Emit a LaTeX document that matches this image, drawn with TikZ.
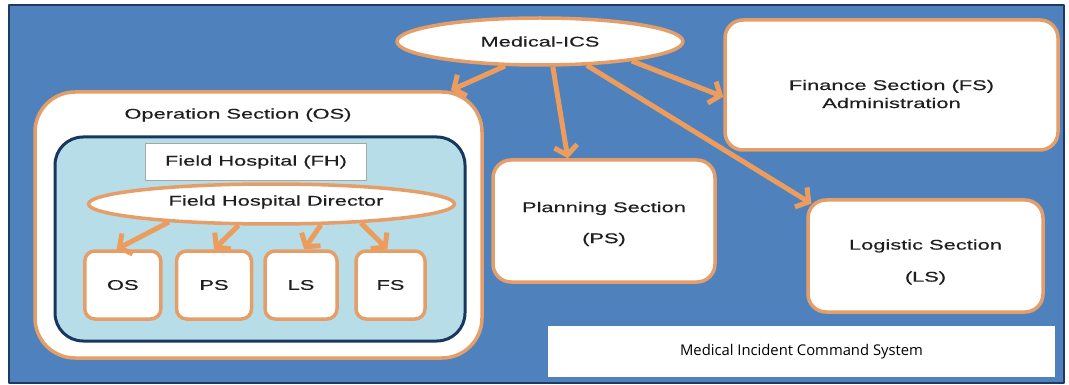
\documentclass[tikz,border=0pt]{standalone}
\usepackage{fontspec}
\usetikzlibrary{shapes.geometric,arrows.meta}
\newfontfamily\chu[FakeStretch=1.56,FakeBold=0.4]{Liberation Sans}
\newfontfamily\chunho{Open Sans}
\definecolor{nen}{RGB}{79,129,189}
\definecolor{vien}{RGB}{31,56,100}
\definecolor{cam}{RGB}{236,156,92}
\definecolor{camvien}{RGB}{230,158,105}
\definecolor{xanhnhat}{RGB}{183,222,232}
\definecolor{xanhdam}{RGB}{23,55,94}
\tikzset{
	hop/.style={draw=camvien, line width=3.5pt, fill=white, rounded corners=18pt, inner sep=0pt, align=center},
	elip/.style={ellipse, draw=camvien, line width=3.5pt, fill=white, inner sep=0pt},
	muiten/.style={draw=cam, line width=5pt, -{Straight Barb[length=9pt,width=23pt]}}
}
\begin{document}
\begin{tikzpicture}[x=1pt, y=-1pt, font=\chu\fontsize{14}{17}\selectfont, line join=round, text=black!88]
	\fill[white] (0,0) rectangle (1069,385);
	\useasboundingbox (0,0) rectangle (1069,385);
	\draw[vien, fill=nen, line width=2.5pt] (9,5) rectangle (1064,383); % khung nen
	\node[elip, minimum width=286pt, minimum height=47pt] (ics) at (540,41.5) {Medical-ICS};
	% khoi OS lon
	\node[hop, rounded corners=40pt, minimum width=447pt, minimum height=266pt] (os) at (258.5,225) {};
	\node (tos) at (238,115) {Operation Section (OS)};
	\node[draw=xanhdam, fill=xanhnhat, line width=3pt, rounded corners=28pt, minimum width=410pt, minimum height=204pt, inner sep=0pt] (trong) at (260,239) {};
	\node[draw=black!35, fill=white, line width=1.5pt, minimum width=221pt, minimum height=37pt, inner sep=0pt] (fh) at (256,162) {Field Hospital (FH)};
	\node[elip, minimum width=366pt, minimum height=40pt] (dir) at (271.5,204) {};
	\node (tdir) at (276,202) {Field Hospital Director};
	\foreach \ten/\x/\w in {OS/122.8/76,PS/214/75,LS/301/72,FS/390.5/69}
		\node[hop, rounded corners=10pt, minimum width=\w pt, minimum height=68pt] (b\ten) at (\x,285) {\ten};
	\foreach \ten/\goc/\dich in {OS/190/100,PS/213/90,LS/-23/85,FS/-12/95}
		\draw[muiten] (dir.\goc)--(b\ten.\dich);
	% cac khoi ben phai
	\node[hop, minimum width=222pt, minimum height=122pt] (plan) at (604,221) {};
	\node[align=center] (tplan) at ([yshift=-3pt]plan.center) {Planning Section\\[14pt](PS)};
	\node[hop, minimum width=333pt, minimum height=130pt] (fin) at (891.5,85) {};
	\node[align=center] (tfin) at ([yshift=-9pt]fin.center) {Finance Section (FS)\\[1pt]Administration};
	\node[hop, minimum width=235pt, minimum height=112pt] (log) at (925.5,256) {};
	\node[align=center] (tlog) at ([yshift=-6pt]log.center) {Logistic Section\\[15pt](LS)};
	\node[fill=white, minimum width=507pt, minimum height=51pt, font=\chunho\fontsize{14.8}{17}\selectfont, text=black] (cap) at (801.5,351.5) {Medical Incident Command System};
	\draw[muiten] (ics.215)--(os.35);
	\draw[muiten] (ics.-63)--(plan.120);
	\draw[muiten] (ics.-12)--(fin.184);
	\draw[muiten, shorten >=-6pt] (ics.-27)--(log.155);
\end{tikzpicture}
\end{document}
